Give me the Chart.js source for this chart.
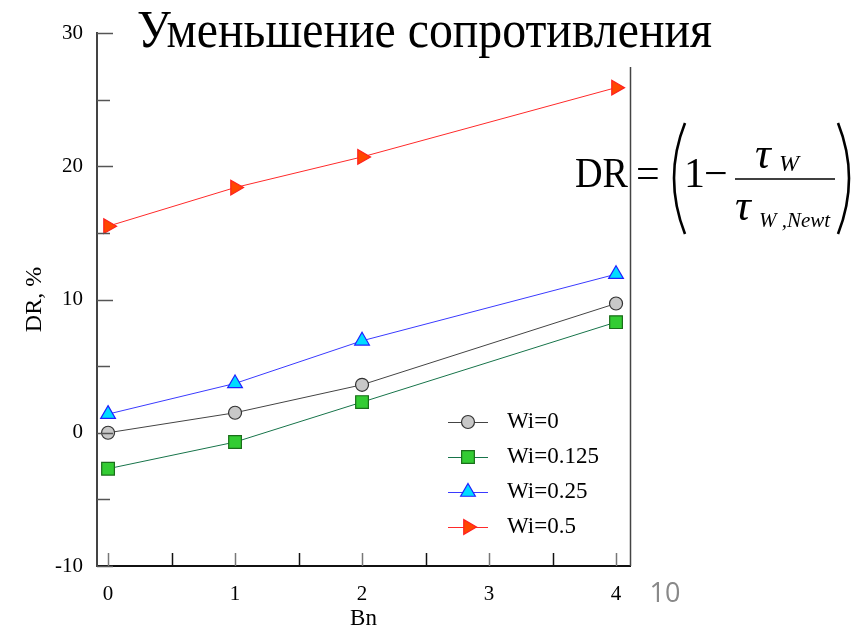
<!DOCTYPE html>
<html><head><meta charset="utf-8">
<script src="https://cdn.jsdelivr.net/npm/chart.js@4.4.1/dist/chart.umd.min.js"></script>
<style>
html,body{margin:0;padding:0;background:#fff}
#wrap{position:relative;width:859px;height:630px}
#wrap canvas{position:absolute;left:0;top:0}
#over{position:absolute;left:0;top:0;pointer-events:none}
</style></head><body>
<div id="wrap">
 <canvas id="c"></canvas>
 <svg id="over" width="859" height="630" viewBox="0 0 859 630" xmlns="http://www.w3.org/2000/svg">
  <rect x="125" y="0" width="600" height="67" fill="#fff"/>
  <text x="137" y="47" font-family="Liberation Serif" font-size="52" textLength="575" lengthAdjust="spacingAndGlyphs">Уменьшение сопротивления</text>
  <g font-family="Liberation Serif" fill="#000">
   <text x="575" y="187" font-size="42" textLength="53" lengthAdjust="spacingAndGlyphs">DR</text>
   <text x="636" y="187" font-size="42">=</text>
   <path d="M685,123 Q663,178 685,234" fill="none" stroke="#000" stroke-width="2.6"/>
   <text x="684" y="187" font-size="42">1</text>
   <text x="704" y="187" font-size="42">−</text>
   <line x1="735" y1="179" x2="835" y2="179" stroke="#000" stroke-width="1.6"/>
   <text x="755" y="168" font-size="44" font-style="italic">τ</text>
   <text x="779" y="171" font-size="24" font-style="italic">W</text>
   <text x="735" y="220" font-size="44" font-style="italic">τ</text>
   <text x="759" y="227" font-size="21" font-style="italic">W ,Newt</text>
   <path d="M838,123 Q860,178 838,234" fill="none" stroke="#000" stroke-width="2.6"/>
  </g>
  <text x="665" y="602" text-anchor="middle" font-family="Open Sans" font-size="27" fill="#898989">10</text>
 </svg>
</div>
<script>
(function(){
'use strict';

/* ---------------- data ---------------- */
const BN=[0,1,2,4];
const SERIES_NAMES=["Wi=0","Wi=0.125","Wi=0.25","Wi=0.5"];
const DR_WI_0=[0,1.5,3.6,9.7];
const DR_WI_0125=[-2.7,-0.7,2.3,8.3];
const DR_WI_025=[1.4,3.7,6.9,11.9];
const DR_WI_05=[15.5,18.4,20.7,25.9];
const Y_MIN=-10, Y_MAX=30, Y_STEP=10;
const X_MIN=-0.087, X_MAX=4.11, X_STEP=1;

const SERIF="'Liberation Serif','Times New Roman',serif";
const pts=vals=>BN.map((b,i)=>({x:b,y:vals[i]}));

/* ---------------- series styles ---------------- */
function ds(label,vals,line,fill,edge,shape,r,rot){
 return {label,data:pts(vals),borderColor:line,borderWidth:1,backgroundColor:fill,
  pointBackgroundColor:fill,pointBorderColor:edge,pointBorderWidth:1.2,
  pointStyle:shape,pointRadius:r,pointRotation:rot||0,pointHoverRadius:r};
}
const datasets=[
 ds(SERIES_NAMES[0],DR_WI_0,"#444","#c8c8c8","#333","circle",6.5),
 ds(SERIES_NAMES[1],DR_WI_0125,"#17744a","#33cc33","#1a6e1a","rect",9),
 ds(SERIES_NAMES[2],DR_WI_025,"#3a3aff","#00dcff","#2020ff","triangle",8.5),
 ds(SERIES_NAMES[3],DR_WI_05,"#ff2a2a","#ff4800","#ff2020","triangle",8.5,90)
];

/* ---------------- inward ticks, right frame, inset legend ---------------- */
const frame={id:"frame",afterDraw(ch){
 const {ctx,chartArea:a,scales:{x,y}}=ch;
 ctx.save();
 ctx.lineWidth=1.5;
 for(let v=Y_MIN;v<=Y_MAX;v+=Y_STEP/2){
  const py=Math.round(y.getPixelForValue(v))+.5;
  ctx.strokeStyle="#555";ctx.beginPath();ctx.moveTo(a.left,py);ctx.lineTo(a.left+(v%Y_STEP===0?16:13),py);ctx.stroke();
 }
 for(let v=0;v<=4;v+=X_STEP/2){
  const px=Math.round(x.getPixelForValue(v))+.5;
  ctx.strokeStyle=(v%1===0)?"#777":"#111";
  ctx.beginPath();ctx.moveTo(px,a.bottom);ctx.lineTo(px,a.bottom-13);ctx.stroke();
 }
 ctx.strokeStyle="#444";ctx.lineWidth=1.5;
 ctx.beginPath();ctx.moveTo(a.right+.5,a.top);ctx.lineTo(a.right+.5,a.bottom);ctx.stroke();
 // legend
 const lx=a.left+351, ly=a.top+389, gap=35;
 ch.data.datasets.forEach((d,i)=>{
  const yy=ly+i*gap;
  ctx.strokeStyle=d.borderColor;ctx.lineWidth=1;
  ctx.beginPath();ctx.moveTo(lx,yy+.5);ctx.lineTo(lx+40,yy+.5);ctx.stroke();
  ctx.fillStyle=d.pointBackgroundColor;ctx.strokeStyle=d.pointBorderColor;ctx.lineWidth=d.pointBorderWidth;
  Chart.helpers.drawPoint(ctx,{pointStyle:d.pointStyle,rotation:d.pointRotation,radius:d.pointRadius,borderWidth:d.pointBorderWidth},lx+20,yy);
  ctx.fillStyle="#000";ctx.font="23px "+SERIF;ctx.textBaseline="middle";ctx.textAlign="left";
  ctx.fillText(d.label,lx+59,yy);
 });
 ctx.restore();
}};

/* ---------------- chart ---------------- */
new Chart(document.getElementById("c"),{
 type:"line",
 data:{datasets},
 options:{responsive:true,maintainAspectRatio:false,animation:false,
  layout:{padding:{left:0,top:33,right:229,bottom:0}},
  plugins:{legend:{display:false},tooltip:{enabled:false}},
  scales:{
   x:{type:"linear",min:X_MIN,max:X_MAX,
    afterFit:s=>{s.height=64;},
    grid:{display:false,drawTicks:false},border:{display:true,color:"#111",width:2},
    ticks:{stepSize:X_STEP,includeBounds:false,padding:16,color:"#000",font:{family:SERIF,size:21},maxRotation:0},
    title:{display:true,text:"Bn",color:"#000",font:{family:SERIF,size:23},padding:{top:0,bottom:-3}}},
   y:{type:"linear",min:Y_MIN,max:Y_MAX,
    afterFit:s=>{s.width=97;},
    grid:{display:false,drawTicks:false},border:{display:true,color:"#444",width:2},
    ticks:{stepSize:Y_STEP,padding:14,color:"#000",font:{family:SERIF,size:21}},
    title:{display:true,text:"DR, %",color:"#000",font:{family:SERIF,size:24},padding:{top:20,bottom:0}}}
  }},
 plugins:[frame]
});
})();
</script>
</body></html>
